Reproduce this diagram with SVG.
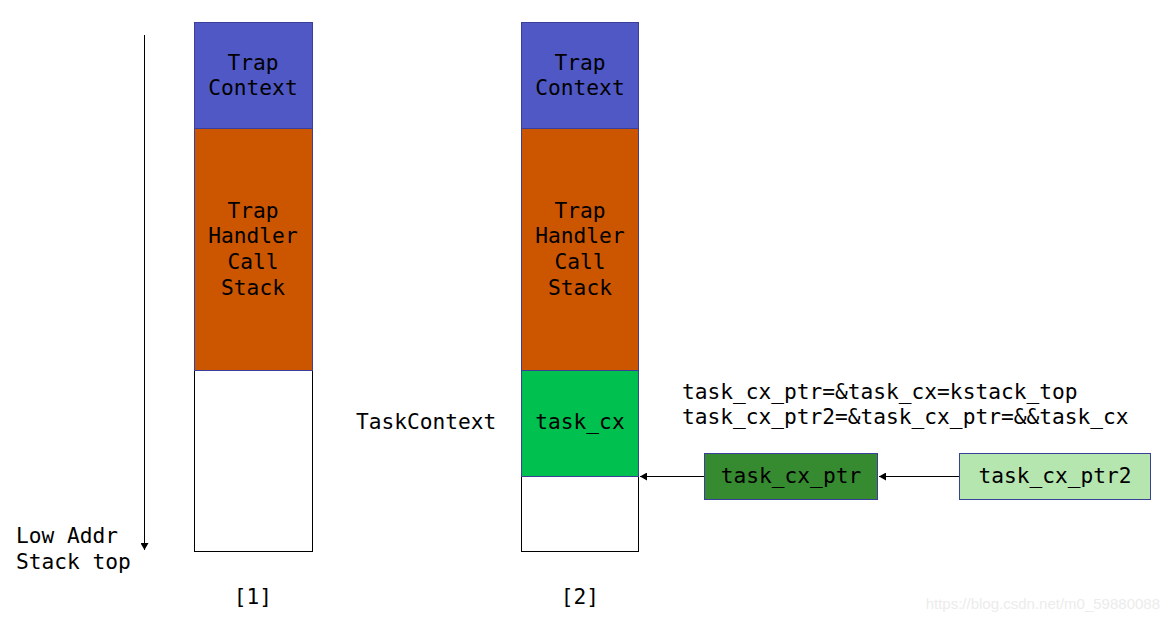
<svg xmlns="http://www.w3.org/2000/svg" width="1169" height="622" viewBox="0 0 1169 622">
<defs>
<style>
.t{font-family:"DejaVu Sans Mono","Liberation Mono",monospace;font-size:21.2px;fill:#000}
.c{text-anchor:middle}
.b{stroke:#3a3f99;stroke-width:1}
.w{fill:#fff;stroke:#000;stroke-width:1}
.ln{stroke:#000;stroke-width:1;fill:none}
</style>
<marker id="ah" markerWidth="8" markerHeight="8" refX="7" refY="4" orient="auto" markerUnits="userSpaceOnUse">
<path d="M0,0 L7,4 L0,8 Z" fill="#000"/>
</marker>
</defs>
<rect width="1169" height="622" fill="#fff"/>
<g id="connectors">
<line class="ln" x1="144.5" y1="35" x2="144.5" y2="550" marker-end="url(#ah)"/>
<line class="ln" x1="704" y1="476.5" x2="640" y2="476.5" marker-end="url(#ah)"/>
<line class="ln" x1="959" y1="476.5" x2="879" y2="476.5" marker-end="url(#ah)"/>
</g>
<g id="stack1">
<rect class="w" x="194.5" y="370.5" width="118" height="181"/>
<rect class="b" x="194.5" y="22.5" width="118" height="106" fill="#5058c6"/>
<rect class="b" x="194.5" y="128.5" width="118" height="242" fill="#cc5500"/>
<text class="t c" x="253" y="70">Trap</text>
<text class="t c" x="253" y="95">Context</text>
<text class="t c" x="253" y="218">Trap</text>
<text class="t c" x="253" y="243">Handler</text>
<text class="t c" x="253" y="269">Call</text>
<text class="t c" x="253" y="295">Stack</text>
</g>
<g id="stack2">
<rect class="w" x="521.5" y="476.5" width="117" height="75"/>
<rect class="b" x="521.5" y="22.5" width="117" height="106" fill="#5058c6"/>
<rect class="b" x="521.5" y="128.5" width="117" height="242" fill="#cc5500"/>
<rect id="task_cx" class="b" x="521.5" y="370.5" width="117" height="106" fill="#00c050"/>
<text class="t c" x="580" y="70">Trap</text>
<text class="t c" x="580" y="95">Context</text>
<text class="t c" x="580" y="218">Trap</text>
<text class="t c" x="580" y="243">Handler</text>
<text class="t c" x="580" y="269">Call</text>
<text class="t c" x="580" y="295">Stack</text>
<text class="t c" x="580" y="429">task_cx</text>
</g>
<g id="task_cx_ptr">
<rect class="b" x="704.5" y="453.5" width="173" height="46" fill="#368a30"/>
<text class="t c" x="791" y="483">task_cx_ptr</text>
</g>
<g id="task_cx_ptr2">
<rect class="b" x="959.5" y="453.5" width="191" height="46" fill="#b5e6b0"/>
<text class="t c" x="1055" y="483">task_cx_ptr2</text>
</g>
<g id="labels">
<text class="t" x="356" y="429">TaskContext</text>
<text class="t" x="682" y="399">task_cx_ptr=&amp;task_cx=kstack_top</text>
<text class="t" x="682" y="424">task_cx_ptr2=&amp;task_cx_ptr=&amp;&amp;task_cx</text>
<text class="t" x="16" y="543">Low Addr</text>
<text class="t" x="16" y="569">Stack top</text>
<text class="t c" x="253" y="604">[1]</text>
<text class="t c" x="580" y="604">[2]</text>
<text x="1160" y="609" text-anchor="end" style="font-family:'Liberation Sans',Arial,sans-serif;font-size:15px;fill:#ececec">https://blog.csdn.net/m0_59880088</text>
</g>
</svg>
